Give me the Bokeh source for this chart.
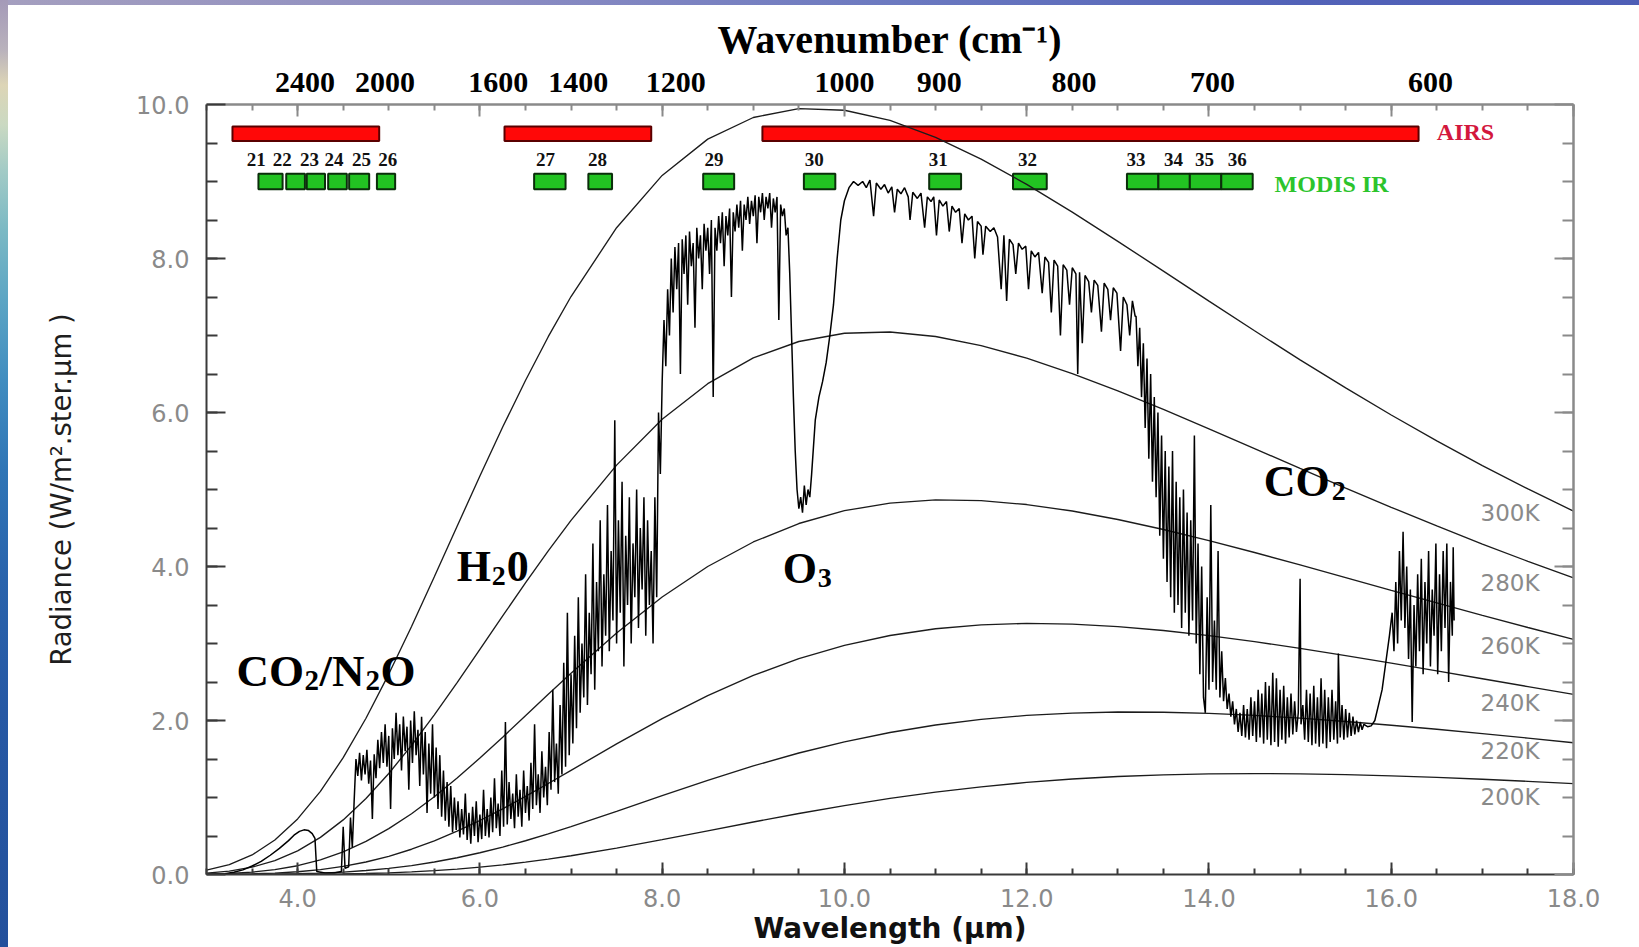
from bokeh.plotting import figure
from bokeh.models import Range1d, LinearAxis, FixedTicker, PrintfTickFormatter
from bokeh.core.properties import value
from bokeh.embed import file_html
from bokeh.resources import INLINE

# ---------------- data ----------------
# Blackbody reference curves (radiance, W/m2/sr/um)
wl_grid = [3.0, 3.25, 3.5, 3.75, 4.0, 4.25, 4.5, 4.75, 5.0, 5.25, 5.5, 5.75, 6.0, 6.25, 6.5, 6.75,
           7.0, 7.5, 8.0, 8.5, 9.0, 9.5, 10.0, 10.5, 11.0, 11.5, 12.0, 12.5, 13.0, 13.5, 14.0, 14.5,
           15.0, 15.5, 16.0, 16.5, 17.0, 17.5, 18.0]
rad_300 = [0.0559, 0.1281, 0.2538, 0.4483, 0.7219, 1.0789, 1.5176, 2.0297, 2.603, 3.2204, 3.866,
           4.5226, 5.175, 5.8108, 6.416, 6.9844, 7.506, 8.400, 9.079, 9.550, 9.831, 9.947, 9.925,
           9.793, 9.574, 9.291, 8.962, 8.602, 8.223, 7.836, 7.446, 7.061, 6.684, 6.320, 5.968,
           5.632, 5.311, 5.007, 4.719]
rad_280 = [0.0179, 0.0447, 0.0954, 0.1797, 0.3067, 0.4819, 0.7091, 0.9869, 1.3118, 1.6767, 2.0735,
           2.4923, 2.9234, 3.3579, 3.7868, 4.2029, 4.5995, 5.3165, 5.9113, 6.3745, 6.7084, 6.9221,
           7.0288, 7.0456, 6.9871, 6.8692, 6.7050, 6.5055, 6.2806, 6.0392, 5.7872, 5.5310, 5.2734,
           5.0186, 4.7689, 4.5267, 4.2920, 4.0665, 3.8509]
rad_260 = [0.0048, 0.0132, 0.0308, 0.0626, 0.1141, 0.1901, 0.2947, 0.4295, 0.5950, 0.7893, 1.0104,
           1.2531, 1.5126, 1.7837, 2.0611, 2.3395, 2.6142, 3.1371, 3.6040, 4.0001, 4.3184, 4.5583,
           4.7247, 4.8238, 4.8644, 4.8548, 4.8046, 4.7206, 4.6102, 4.4805, 4.3360, 4.1816, 4.0205,
           3.8563, 3.6912, 3.5273, 3.3656, 3.2080, 3.0548]
rad_240 = [0.0010, 0.0032, 0.0083, 0.0183, 0.0361, 0.0643, 0.1057, 0.1626, 0.2365, 0.3281, 0.4369,
           0.5619, 0.7014, 0.8529, 1.0138, 1.1814, 1.3527, 1.6958, 2.0245, 2.3240, 2.5850, 2.8025,
           2.9749, 3.1037, 3.1916, 3.2424, 3.2610, 3.2523, 3.2198, 3.1685, 3.1022, 3.0240, 2.9366,
           2.8428, 2.7446, 2.6439, 2.5419, 2.4398, 2.3388]
rad_220 = [0.0002, 0.0006, 0.0017, 0.0043, 0.0092, 0.0178, 0.0315, 0.0517, 0.0795, 0.1162, 0.1622,
           0.2177, 0.2827, 0.3565, 0.4383, 0.5269, 0.6209, 0.8199, 1.0240, 1.2235, 1.4099, 1.5778,
           1.7232, 1.8444, 1.9412, 2.0145, 2.0657, 2.0967, 2.1099, 2.1077, 2.0923, 2.0660, 2.0305,
           1.9875, 1.9389, 1.8858, 1.8295, 1.7711, 1.7112]
rad_200 = [0.0000, 0.0001, 0.0003, 0.0007, 0.0018, 0.0038, 0.0074, 0.0130, 0.0215, 0.0334, 0.0494,
           0.0699, 0.0951, 0.1253, 0.1602, 0.1999, 0.2439, 0.3428, 0.4521, 0.5667, 0.6815, 0.7923,
           0.8954, 0.9885, 1.0700, 1.1390, 1.1956, 1.2398, 1.2725, 1.2946, 1.3069, 1.3107, 1.3070,
           1.2967, 1.2810, 1.2608, 1.2367, 1.2096, 1.1802]
temp_curves = [rad_300, rad_280, rad_260, rad_240, rad_220, rad_200]
temp_names = ["300K", "280K", "260K", "240K", "220K", "200K"]

# Observed spectrum (wavelength um, radiance), by spectral region
spec_sw = [(3.00, 0.00), (3.20, 0.01), (3.30, 0.03), (3.40, 0.06), (3.50, 0.11), (3.60, 0.17),
           (3.70, 0.25), (3.80, 0.34), (3.90, 0.44), (3.96, 0.51), (4.02, 0.56), (4.07, 0.58),
           (4.12, 0.57), (4.16, 0.53), (4.19, 0.47), (4.21, 0.04), (4.30, 0.02), (4.40, 0.02),
           (4.48, 0.04), (4.50, 0.62), (4.52, 0.08), (4.56, 0.10), (4.58, 0.74), (4.60, 0.35)]
spec_mw1 = [(4.62, 0.95), (4.64, 1.50), (4.66, 1.28), (4.68, 1.58), (4.70, 1.22), (4.72, 1.55),
            (4.74, 1.30), (4.76, 1.62), (4.78, 1.18), (4.80, 1.48), (4.82, 0.72), (4.84, 1.56),
            (4.86, 1.25), (4.88, 1.75), (4.90, 1.38), (4.92, 1.85), (4.94, 1.45), (4.96, 1.95),
            (4.98, 1.40), (5.00, 1.80), (5.02, 0.85), (5.04, 1.90), (5.06, 1.50), (5.08, 2.10),
            (5.10, 1.55), (5.12, 1.95), (5.14, 1.35), (5.16, 2.05), (5.18, 1.60), (5.20, 1.92),
            (5.22, 1.10), (5.24, 2.00), (5.26, 1.45), (5.28, 2.12), (5.30, 1.55), (5.32, 1.88),
            (5.34, 1.15), (5.36, 2.05), (5.38, 1.30), (5.40, 1.85), (5.42, 0.80), (5.44, 1.70),
            (5.46, 1.05), (5.48, 1.95), (5.50, 1.00), (5.52, 1.65), (5.54, 0.85), (5.56, 1.55),
            (5.58, 0.75), (5.60, 1.35), (5.62, 0.70), (5.64, 1.20), (5.66, 0.62), (5.68, 1.15),
            (5.70, 0.55)]
spec_mw2 = [(5.72, 1.00), (5.74, 0.58), (5.76, 0.95), (5.78, 0.48), (5.80, 0.85), (5.82, 0.52),
            (5.84, 1.05), (5.86, 0.45), (5.88, 0.80), (5.90, 0.40), (5.92, 0.88), (5.94, 0.50),
            (5.96, 0.95), (5.98, 0.42), (6.00, 0.78), (6.02, 0.46), (6.04, 1.10), (6.06, 0.50),
            (6.08, 0.85), (6.10, 0.48), (6.12, 1.00), (6.14, 0.55), (6.16, 1.25), (6.18, 0.60),
            (6.20, 0.92), (6.22, 0.50), (6.24, 1.35), (6.26, 0.62), (6.28, 1.98), (6.30, 0.65),
            (6.32, 1.20), (6.34, 0.72), (6.36, 1.05), (6.38, 0.60), (6.40, 1.30), (6.42, 0.75),
            (6.44, 1.10), (6.46, 0.62), (6.48, 1.35), (6.50, 0.80), (6.52, 1.15), (6.54, 0.70),
            (6.56, 1.45), (6.58, 0.85), (6.60, 1.95), (6.62, 0.90), (6.64, 1.30), (6.66, 0.80),
            (6.68, 1.60), (6.70, 1.00), (6.72, 1.40), (6.74, 0.90), (6.76, 1.85), (6.78, 1.10),
            (6.80, 2.40), (6.82, 1.20), (6.84, 1.70), (6.86, 1.05), (6.88, 2.20), (6.90, 1.30),
            (6.92, 2.75), (6.94, 1.40), (6.96, 3.40), (6.98, 1.55), (7.00, 2.60)]
spec_mw3 = [(7.02, 1.70), (7.04, 3.10), (7.06, 1.90), (7.08, 3.60), (7.10, 2.10), (7.12, 3.00),
            (7.14, 2.30), (7.16, 3.90), (7.18, 2.20), (7.20, 3.40), (7.22, 2.60), (7.24, 4.30),
            (7.26, 2.40), (7.28, 3.80), (7.30, 2.90), (7.32, 4.60), (7.34, 2.70), (7.36, 3.90),
            (7.38, 3.10), (7.40, 4.80), (7.42, 2.90), (7.44, 4.20), (7.46, 3.30), (7.48, 5.90),
            (7.50, 3.00), (7.52, 4.60), (7.54, 3.40), (7.56, 5.10), (7.58, 2.70), (7.60, 4.40),
            (7.62, 3.50), (7.64, 4.90), (7.66, 3.00), (7.68, 4.30), (7.70, 3.60), (7.72, 5.00),
            (7.74, 3.20), (7.76, 4.50), (7.78, 3.70), (7.80, 4.90), (7.82, 3.10), (7.84, 4.60),
            (7.86, 3.50), (7.88, 4.20), (7.90, 3.00), (7.92, 4.90), (7.94, 3.60), (7.96, 6.00),
            (7.98, 5.20)]
spec_lw1 = [(8.00, 6.40), (8.02, 7.20), (8.04, 6.60), (8.06, 7.60), (8.08, 7.00), (8.10, 8.00),
            (8.12, 7.30), (8.14, 8.15), (8.16, 7.60), (8.18, 8.20), (8.20, 6.50), (8.22, 8.25),
            (8.24, 7.80), (8.26, 8.30), (8.28, 7.40), (8.30, 8.35), (8.32, 7.90), (8.34, 8.20),
            (8.36, 7.10), (8.38, 8.40), (8.40, 8.00), (8.42, 8.30), (8.44, 7.60), (8.46, 8.45),
            (8.48, 8.10), (8.50, 8.40), (8.52, 7.80), (8.54, 8.50), (8.56, 6.20), (8.58, 8.40),
            (8.60, 8.10), (8.62, 8.55), (8.64, 8.20), (8.66, 8.60), (8.68, 7.90), (8.70, 8.55),
            (8.72, 8.30), (8.74, 8.65), (8.76, 7.50), (8.78, 8.60), (8.80, 8.35), (8.82, 8.70),
            (8.84, 8.40), (8.86, 8.75), (8.88, 8.10), (8.90, 8.70), (8.92, 8.50), (8.94, 8.80),
            (8.96, 8.45), (8.98, 8.75), (9.00, 8.55), (9.02, 8.82), (9.04, 8.20), (9.06, 8.80),
            (9.08, 8.60), (9.10, 8.85), (9.12, 8.50), (9.14, 8.80), (9.16, 8.65), (9.18, 8.85),
            (9.20, 8.40), (9.22, 8.78), (9.24, 8.60), (9.26, 8.80), (9.28, 7.20), (9.30, 8.70),
            (9.32, 8.55), (9.34, 8.65), (9.36, 8.30), (9.38, 8.40)]
spec_o3 = [(9.40, 7.80), (9.42, 7.00), (9.44, 6.20), (9.46, 5.50), (9.48, 5.00), (9.50, 4.75),
           (9.52, 4.90), (9.54, 4.70), (9.56, 5.05), (9.58, 4.80), (9.60, 5.00), (9.62, 4.90),
           (9.64, 5.20), (9.68, 5.90), (9.72, 6.20), (9.76, 6.40), (9.80, 6.65), (9.84, 7.00),
           (9.88, 7.40), (9.92, 8.00), (9.96, 8.50), (10.00, 8.75), (10.05, 8.92), (10.10, 9.00),
           (10.15, 8.95)]
spec_win = [(10.20, 9.00), (10.24, 8.92), (10.28, 9.02), (10.32, 8.55), (10.35, 8.98), (10.40, 8.90),
            (10.44, 8.96), (10.48, 8.85), (10.52, 8.93), (10.55, 8.60), (10.58, 8.90), (10.62, 8.84),
            (10.66, 8.92), (10.70, 8.80), (10.72, 8.50), (10.75, 8.86), (10.80, 8.78), (10.84, 8.85),
            (10.88, 8.40), (10.91, 8.80), (10.95, 8.74), (10.98, 8.80), (11.01, 8.30), (11.04, 8.76),
            (11.08, 8.68), (11.12, 8.74), (11.15, 8.35), (11.18, 8.68), (11.22, 8.60), (11.26, 8.65),
            (11.29, 8.20), (11.32, 8.58), (11.36, 8.50), (11.40, 8.55), (11.43, 8.00), (11.46, 8.48),
            (11.50, 8.42), (11.52, 8.05), (11.55, 8.42), (11.60, 8.35), (11.64, 8.40), (11.68, 8.28),
            (11.72, 7.60), (11.75, 8.30), (11.78, 7.45), (11.81, 8.25), (11.85, 8.18), (11.88, 7.80),
            (11.91, 8.20), (11.95, 8.12), (11.99, 8.16), (12.02, 7.60), (12.05, 8.10), (12.09, 8.02),
            (12.13, 8.08), (12.17, 7.55), (12.20, 8.02), (12.24, 7.95), (12.27, 7.30), (12.30, 7.98),
            (12.34, 7.90), (12.37, 7.00), (12.40, 7.92), (12.44, 7.85), (12.47, 7.40), (12.50, 7.88),
            (12.54, 7.80), (12.56, 6.50), (12.58, 7.82), (12.61, 6.90), (12.64, 7.78), (12.68, 7.70),
            (12.71, 7.30), (12.74, 7.72), (12.78, 7.65), (12.82, 7.05), (12.85, 7.68), (12.89, 7.60),
            (12.92, 7.20), (12.95, 7.62), (12.99, 7.55), (13.03, 6.80), (13.06, 7.50), (13.10, 7.40),
            (13.13, 7.00), (13.16, 7.45), (13.19, 7.25)]
spec_co2_wing = [(13.20, 7.25), (13.22, 6.60), (13.24, 7.10), (13.26, 6.20), (13.28, 6.90), (13.30, 5.80),
                 (13.32, 6.70), (13.34, 5.40), (13.36, 6.50), (13.38, 5.10), (13.40, 6.20), (13.42, 4.90),
                 (13.44, 6.00), (13.46, 4.40), (13.48, 5.70), (13.50, 4.10), (13.52, 5.50), (13.54, 3.80),
                 (13.56, 5.30), (13.58, 3.60), (13.60, 5.50), (13.62, 3.40), (13.64, 5.10), (13.66, 3.50),
                 (13.68, 4.90), (13.70, 3.20), (13.72, 5.00), (13.74, 3.40), (13.76, 4.70), (13.78, 3.10),
                 (13.80, 4.60), (13.82, 3.30), (13.84, 5.70), (13.86, 3.00), (13.88, 4.30), (13.90, 2.60),
                 (13.92, 4.00), (13.94, 2.30), (13.96, 2.10), (13.98, 3.60), (14.00, 2.40), (14.02, 4.80),
                 (14.04, 2.50), (14.06, 3.30), (14.08, 2.40), (14.10, 4.20), (14.12, 2.30), (14.14, 2.90),
                 (14.16, 2.25), (14.18, 2.55), (14.20, 2.15), (14.22, 2.35), (14.24, 2.05), (14.26, 2.25),
                 (14.28, 1.95), (14.30, 2.15)]
spec_co2_core = [(14.32, 1.85), (14.34, 2.10), (14.36, 1.80), (14.38, 2.20), (14.40, 1.78), (14.42, 2.15),
                 (14.44, 1.75), (14.46, 2.30), (14.48, 1.80), (14.50, 2.25), (14.52, 1.72), (14.54, 2.40),
                 (14.56, 1.78), (14.58, 2.35), (14.60, 1.70), (14.62, 2.50), (14.64, 1.75), (14.66, 2.45),
                 (14.68, 1.68), (14.70, 2.62), (14.72, 1.72), (14.74, 2.55), (14.76, 1.66), (14.78, 2.40),
                 (14.80, 1.75), (14.82, 2.45), (14.84, 1.70), (14.86, 2.30), (14.88, 1.78), (14.90, 2.35),
                 (14.92, 1.82), (14.94, 2.25), (14.96, 1.85), (14.98, 2.10), (15.00, 3.84), (15.01, 1.95),
                 (15.03, 2.20), (15.05, 1.75), (15.07, 2.40), (15.09, 1.72), (15.11, 2.35), (15.13, 1.68),
                 (15.15, 2.45), (15.17, 1.70), (15.19, 2.30), (15.21, 1.66), (15.23, 2.55), (15.25, 1.70),
                 (15.27, 2.40), (15.29, 1.64), (15.31, 2.30), (15.33, 1.72), (15.35, 2.40), (15.37, 1.75),
                 (15.39, 2.25), (15.41, 1.70), (15.42, 2.87), (15.44, 1.78), (15.46, 2.20), (15.48, 1.75),
                 (15.50, 2.15), (15.52, 1.78), (15.54, 2.10), (15.56, 1.80), (15.58, 2.05), (15.60, 1.82),
                 (15.62, 2.00), (15.64, 1.85), (15.66, 1.98), (15.68, 1.88), (15.70, 1.95), (15.74, 1.92),
                 (15.78, 1.93), (15.82, 2.00)]
spec_co2_far = [(15.86, 2.20), (15.90, 2.40), (15.94, 2.75), (15.98, 3.10), (16.01, 3.40), (16.03, 2.90),
                (16.05, 3.80), (16.07, 3.00), (16.09, 4.20), (16.11, 3.30), (16.13, 4.45), (16.15, 3.20),
                (16.17, 4.00), (16.19, 2.80), (16.21, 3.70), (16.23, 1.98), (16.25, 3.50), (16.27, 2.70),
                (16.29, 3.90), (16.31, 2.90), (16.33, 4.10), (16.35, 2.60), (16.37, 3.80), (16.39, 3.00),
                (16.41, 4.20), (16.43, 2.70), (16.45, 3.70), (16.47, 3.10), (16.49, 4.30), (16.51, 2.60),
                (16.53, 3.90), (16.55, 2.90), (16.57, 4.20), (16.59, 3.20), (16.61, 4.30), (16.63, 2.50),
                (16.65, 3.80), (16.67, 3.10), (16.68, 4.25), (16.69, 3.30)]

# Instrument spectral coverage (um)
airs_lo = [3.285, 6.27, 9.10]
airs_hi = [4.895, 7.88, 16.30]
modis_band = ["21", "22", "23", "24", "25", "26", "27", "28", "29", "30", "31", "32", "33", "34", "35", "36"]
modis_lo = [3.57, 3.875, 4.10, 4.335, 4.565, 4.87, 6.595, 7.19, 8.45, 9.555, 10.93, 11.85, 13.10, 13.445, 13.79, 14.135]
modis_hi = [3.835, 4.08, 4.30, 4.54, 4.785, 5.07, 6.94, 7.45, 8.79, 9.90, 11.28, 12.22, 13.445, 13.79, 14.135, 14.48]

# Axis ticks
x_major = [4, 6, 8, 10, 12, 14, 16, 18]
x_minor = [3.0, 3.5, 4.0, 4.5, 5.0, 5.5, 6.0, 6.5, 7.0, 7.5, 8.0, 8.5, 9.0, 9.5, 10.0, 10.5, 11.0,
           11.5, 12.0, 12.5, 13.0, 13.5, 14.0, 14.5, 15.0, 15.5, 16.0, 16.5, 17.0, 17.5, 18.0]
y_major = [0, 2, 4, 6, 8, 10]
y_minor = [0.5, 1.0, 1.5, 2.0, 2.5, 3.0, 3.5, 4.0, 4.5, 5.0, 5.5, 6.0, 6.5, 7.0, 7.5, 8.0, 8.5,
           9.0, 9.5]
wn_labels = ["2400", "2000", "1600", "1400", "1200", "1000", "900", "800", "700", "600"]
wn_pos = [4.08, 4.96, 6.20, 7.08, 8.15, 10.0, 11.04, 12.52, 14.04, 16.43]

# placement of text annotations (um / radiance units)
band_label_x = [3.545, 3.83, 4.13, 4.40, 4.70, 4.99, 6.72, 7.29, 8.57, 9.67, 11.03, 12.01, 13.20, 13.61, 13.95, 14.31]
temp_label_y = [4.69, 3.79, 2.97, 2.23, 1.60, 1.01]

# ---------------- figure ----------------
W, H = 1639, 947
# slide-style edges: thin gradient strips along the left and top borders
page_bg = ("linear-gradient(to bottom, #a49ab8 0px, #b9b2bc 50px, #ddd5b6 85px, #cad9c2 125px, "
           "#a3cbc6 170px, #7bb9c4 230px, #5ca5c4 300px, #418dc0 380px, #2f75b6 470px, "
           "#2963ac 580px, #2658a4 710px, #23509c 947px) left top / 8px 100% no-repeat, "
           "linear-gradient(to right, #a59fbf 0px, #8b8cc2 500px, #6b79c0 900px, #5262b8 1300px, "
           "#4e5eb6 1639px) left top / 100% 5px no-repeat, #ffffff")
p = figure(width=W, height=H, x_range=Range1d(3, 18), y_range=Range1d(0, 10),
           output_backend="svg", toolbar_location=None,
           min_border_left=206, min_border_right=66, min_border_top=104, min_border_bottom=73,
           styles={"background": page_bg})
p.background_fill_color = "white"
p.border_fill_alpha = 0.0
p.outline_line_color = None
p.xgrid.visible = False
p.ygrid.visible = False

DARK = "#3a3a3a"
LIGHT = "#8a8a8a"
TICK_FONT = "DejaVu Sans"

xb = p.xaxis[0]
xb.ticker = FixedTicker(ticks=x_major, minor_ticks=x_minor)
xb.formatter = PrintfTickFormatter(format="%.1f")
xb.axis_line_color = DARK
xb.axis_line_width = 2
xb.major_tick_in, xb.major_tick_out = 12, 0
xb.minor_tick_in, xb.minor_tick_out = 6, 0
xb.major_tick_line_color = DARK
xb.major_tick_line_width = 2
xb.minor_tick_line_color = DARK
xb.minor_tick_line_width = 2
xb.major_label_text_font = TICK_FONT
xb.major_label_text_font_size = "24px"
xb.major_label_text_color = LIGHT
xb.major_label_standoff = 14
xb.axis_label = "Wavelength (µm)"
xb.axis_label_text_font = "DejaVu Sans"
xb.axis_label_text_font_style = "bold"
xb.axis_label_text_font_size = "28px"
xb.axis_label_text_color = "#111111"
xb.axis_label_standoff = 2

yl = p.yaxis[0]
yl.ticker = FixedTicker(ticks=y_major, minor_ticks=y_minor)
yl.formatter = PrintfTickFormatter(format="%.1f")
yl.axis_line_color = DARK
yl.axis_line_width = 2
yl.major_tick_in, yl.major_tick_out = 19, 0
yl.minor_tick_in, yl.minor_tick_out = 11, 0
yl.major_tick_line_color = DARK
yl.major_tick_line_width = 2
yl.minor_tick_line_color = DARK
yl.minor_tick_line_width = 2
yl.major_label_text_font = TICK_FONT
yl.major_label_text_font_size = "24px"
yl.major_label_text_color = LIGHT
yl.major_label_standoff = 17
yl.axis_label = "Radiance (W/m².ster.µm )"
yl.axis_label_text_font = "DejaVu Sans"
yl.axis_label_text_font_style = "normal"
yl.axis_label_text_font_size = "27.5px"
yl.axis_label_text_color = "#1e1e1e"
yl.axis_label_standoff = 56

# mirrored tick-only axes on the right and top
yr = LinearAxis(ticker=FixedTicker(ticks=y_major, minor_ticks=y_minor),
                axis_line_color=LIGHT, axis_line_width=2.5,
                major_tick_in=19, major_tick_out=0, minor_tick_in=11, minor_tick_out=0,
                major_tick_line_color=LIGHT, major_tick_line_width=2,
                minor_tick_line_color=LIGHT, minor_tick_line_width=2,
                major_label_text_color=None, major_label_text_font_size="1px", major_label_standoff=0)
p.add_layout(yr, "right")

xt = LinearAxis(ticker=FixedTicker(ticks=x_major, minor_ticks=x_minor),
                axis_line_color=LIGHT, axis_line_width=2.5,
                major_tick_in=12, major_tick_out=0, minor_tick_in=6, minor_tick_out=0,
                major_tick_line_color=LIGHT, major_tick_line_width=2,
                minor_tick_line_color=LIGHT, minor_tick_line_width=2,
                major_label_text_color=None, major_label_text_font_size="1px", major_label_standoff=0)
p.add_layout(xt, "above")

# wavenumber scale along the top
xw = LinearAxis(ticker=FixedTicker(ticks=wn_pos, minor_ticks=[]),
                major_label_overrides={pos: lab for pos, lab in zip(wn_pos, wn_labels)},
                axis_line_color=None, major_tick_line_color=None, minor_tick_line_color=None,
                major_tick_in=0, major_tick_out=0, minor_tick_in=0, minor_tick_out=0,
                major_label_text_font="Liberation Serif", major_label_text_font_style="bold",
                major_label_text_font_size="30px", major_label_text_color="#000000",
                major_label_standoff=13,
                axis_label="Wavenumber (cm⁻¹)", axis_label_text_font="Liberation Serif",
                axis_label_text_font_style="bold", axis_label_text_font_size="40px",
                axis_label_text_color="#000000", axis_label_standoff=8)
p.add_layout(xw, "above")

# instrument bands
AIRS_Y, AIRS_H = 9.62, 0.19
MODIS_Y, MODIS_H = 9.0, 0.20
p.quad(left=airs_lo, right=airs_hi, bottom=[AIRS_Y - AIRS_H / 2] * 3, top=[AIRS_Y + AIRS_H / 2] * 3,
       fill_color="#ff0808", line_color="#5a0000", line_width=2)
p.quad(left=modis_lo, right=modis_hi, bottom=[MODIS_Y - MODIS_H / 2] * len(modis_lo),
       top=[MODIS_Y + MODIS_H / 2] * len(modis_lo),
       fill_color="#22c322", line_color="#0b2e0b", line_width=2)
p.text(x=band_label_x, y=[9.29] * len(modis_band), text=modis_band,
       text_font=value("Liberation Serif"), text_font_style="bold", text_font_size=value("19px"),
       text_color="#111111", text_align="center", text_baseline="middle")
p.text(x=[16.50], y=[9.64], text=["AIRS"], text_font=value("Liberation Serif"), text_font_style="bold",
       text_font_size=value("24px"), text_color="#d3173d", text_align="left", text_baseline="middle")
p.text(x=[14.72], y=[8.97], text=["MODIS IR"], text_font=value("Liberation Serif"), text_font_style="bold",
       text_font_size=value("24px"), text_color="#2cc42c", text_align="left", text_baseline="middle")

# blackbody curves
for curve in temp_curves:
    p.line(wl_grid, curve, line_color="#1c1c1c", line_width=1.35)
p.text(x=[16.98] * 6, y=temp_label_y, text=temp_names,
       text_font=value("DejaVu Sans"), text_font_size=value("23px"), text_color=LIGHT,
       text_align="left", text_baseline="middle")

# spectrum
spectrum = (spec_sw + spec_mw1 + spec_mw2 + spec_mw3 + spec_lw1 + spec_o3 + spec_win
            + spec_co2_wing + spec_co2_core + spec_co2_far)
p.line([s[0] for s in spectrum], [s[1] for s in spectrum], line_color="#000000", line_width=1.5)

# absorber labels (main text + subscripts)
SERIF = value("Liberation Serif")
def chem_label(x, y, parts, size=44, sub_size=28):
    xs, ys, ts, offs, sizes = [], [], [], [], []
    for txt, dx, sub in parts:
        xs.append(x)
        ys.append(y - (0.12 if sub else 0.0))
        ts.append(txt)
        offs.append(dx)
        sizes.append(f"{sub_size}px" if sub else f"{size}px")
    p.text(x=xs, y=ys, text=ts, x_offset=offs, text_font=SERIF, text_font_style="bold",
           text_font_size=sizes, text_color="#000000", text_align="left", text_baseline="alphabetic")

chem_label(3.33, 2.64, [("CO", 0, False), ("2", 68, True), ("/N", 83, False), ("2", 129, True), ("O", 144, False)], size=45, sub_size=29)
chem_label(5.745, 4.00, [("H", 0, False), ("2", 35, True), ("0", 50, False)])
chem_label(9.323, 3.97, [("O", 0, False), ("3", 35, True)])
chem_label(14.60, 5.10, [("CO", 0, False), ("2", 68, True)])

open("out.html", "w").write(file_html(p, INLINE))
